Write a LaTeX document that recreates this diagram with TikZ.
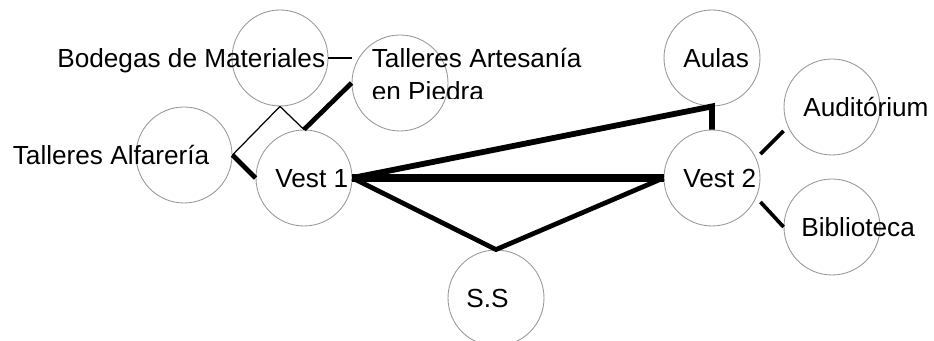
\documentclass[tikz,border=0pt]{standalone}
\usepackage{fontspec}
\setmainfont{Liberation Sans}
\usepackage{tikz}
\usetikzlibrary{positioning,calc}

\begin{document}
\begin{tikzpicture}[
    area/.style={draw=gray!80, line width=0.5pt, circle, minimum size=1.92cm,
                 inner sep=0pt},
    lbl/.style={anchor=base west, inner sep=0pt, align=left,
                font=\fontsize{14.9}{19}\selectfont},
    fine/.style={line width=0.7pt},
    mid/.style={line width=2.1pt},
    heavy/.style={line width=2.7pt},
    bold/.style={line width=3.3pt},
    boldest/.style={line width=4pt}
]
\useasboundingbox (0,0) rectangle (18.68,6.82);

% Circles
\node[area] (bod) at (5.6, 5.66) {};
\node[area] (art) at (8.0, 5.16) {};
\node[area] (alf) at (3.68, 3.72) {};
\node[area] (v1) at (6.08, 3.26) {};
\node[area] (ss) at (9.92, 0.86) {};
\node[area] (aulas) at (14.24, 5.66) {};
\node[area] (v2) at (14.24, 3.26) {};
\node[area] (aud) at (16.64, 4.68) {};
\node[area] (bib) at (16.64, 2.28) {};

% Labels
\node[lbl] (bodT) at (1.14, 5.46) {Bodegas de Materiales};
\begin{scope}
  \clip (7.2, 4.84) rectangle (12, 6.3);
  \node[lbl] (artT) at (7.43, 4.81) {Talleres Artesanía\\en Piedra};
\end{scope}
\node[lbl] (alfT) at (0.25, 3.52) {Talleres Alfarería};
\node[lbl] (v1T) at (5.5, 3.06) {Vest 1};
\node[lbl] (ssT) at (9.32, 0.66) {S.S};
\node[lbl] (aulasT) at (13.66, 5.46) {Aulas};
\node[lbl] (v2T) at (13.66, 3.06) {Vest 2};
\node[lbl] (audT) at (16.06, 4.48) {Auditórium};
\node[lbl] (bibT) at (16.02, 2.08) {Biblioteca};

% Thin links
\draw[fine] (bod.east) -- (bod.east -| art.west);
\draw[fine] (alf.east) -- (bod.south) -- (v1.north);

% Heavy links
\draw[heavy] (v1.north) -- (art.west);
\draw[heavy] (alf.east) -- (v1.west);
\draw[heavy] (v1.east) -- (ss.north) -- (v2.west);
\draw[boldest] (v1.east) -- (v2.west);
\draw[bold] (v1.east) -- (aulas.south) -- (v2.north);
\draw[mid] ([yshift=0.48cm]v2.east) -- ([yshift=-0.48cm]aud.west);
\draw[mid] ([yshift=-0.48cm]v2.east) -- (bib.west);

\end{tikzpicture}
\end{document}
